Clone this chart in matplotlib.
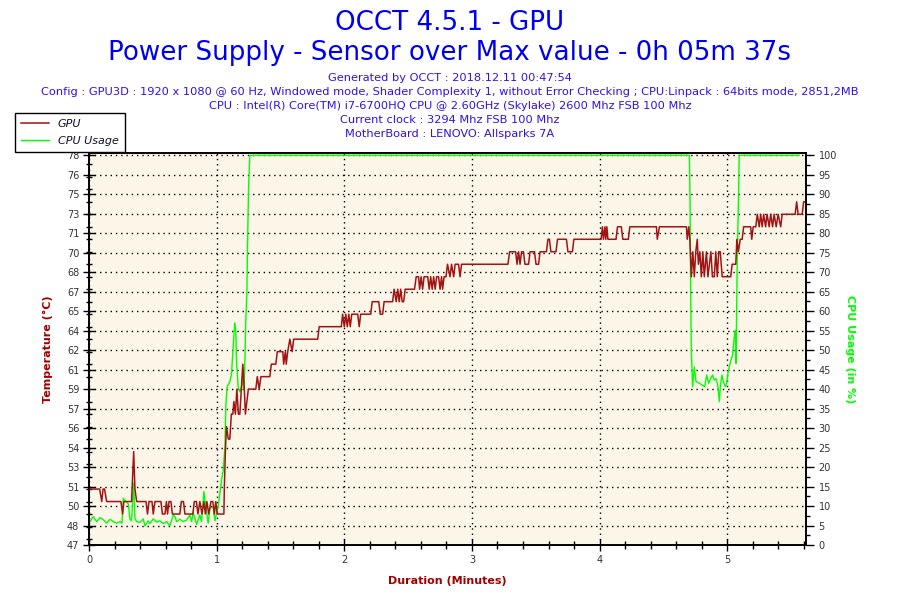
import numpy as np
import matplotlib
matplotlib.use('Agg')
import matplotlib.pyplot as plt
from matplotlib.ticker import MultipleLocator, FixedLocator, FixedFormatter

title_lines = ["OCCT 4.5.1 - GPU",
               "Power Supply - Sensor over Max value - 0h 05m 37s"]
info_lines = ["Generated by OCCT : 2018.12.11 00:47:54",
              "Config : GPU3D : 1920 x 1080 @ 60 Hz, Windowed mode, Shader Complexity 1, "
              "without Error Checking ; CPU:Linpack : 64bits mode, 2851,2MB",
              "CPU : Intel(R) Core(TM) i7-6700HQ CPU @ 2.60GHz (Skylake) 2600 Mhz FSB 100 Mhz",
              "Current clock : 3294 Mhz FSB 100 Mhz",
              "MotherBoard : LENOVO: Allsparks 7A"]
series_names = ["GPU", "CPU Usage"]

# GPU temperature (elapsed seconds, deg C)
gpu_sec = [0, 5.0, 6.0, 6.6, 7.3, 8.3, 15.0, 15.8, 16.4, 20.0, 21.0, 21.6, 22.4,
           26.8, 27.5, 28.2, 29.6, 30.2, 31.0, 33.8, 34.5, 35.7, 36.4, 36.9, 37.6,
           38.5, 39.2, 42.7, 43.4, 44.4, 45.1, 48.8, 49.5, 50.5, 51.2, 52.1, 53.1,
           54.0, 54.7, 55.4, 56.3, 57.3, 58.2, 58.9, 59.6, 60.3, 63.4, 63.6, 64.1,
           64.6, 65.5, 66.2, 66.9, 67.6, 68.1, 68.8, 69.5, 70.2, 70.9, 71.6, 72.3,
           73.0, 73.5, 74.2, 74.9, 78.4, 79.1, 80.0, 80.8, 85.0, 85.7, 87.8, 88.5,
           91.1, 91.5, 92.3, 92.7, 93.4, 94.4, 95.5, 96.2, 107.5, 108.2, 118.6, 119.2,
           120.0, 120.7, 121.4, 122.1, 122.8, 123.5, 126.3, 127.0, 127.7, 132.4, 133.1,
           136.2, 136.9, 138.0, 138.7, 142.7, 143.4, 144.4, 145.1, 145.8, 146.5, 147.2,
           147.9, 148.6, 153.0, 153.8, 154.9, 155.4, 156.1, 156.8, 157.5, 159.2, 159.9,
           160.6, 161.3, 162.0, 162.7, 163.4, 164.3, 165.0, 165.7, 166.2, 166.9, 167.8,
           168.5, 169.7, 170.4, 171.4, 172.1, 173.7, 174.4, 175.1, 196.9, 197.7, 200.5,
           201.2, 201.9, 202.6, 203.3, 204.2, 204.9, 206.6, 207.3, 209.4, 210.1, 211.3,
           212.0, 215.0, 215.7, 216.4, 217.1, 219.5, 220.2, 224.4, 225.1, 227.2, 227.9,
           240.7, 241.3, 241.8, 242.5, 242.9, 243.4, 243.9, 247.7, 248.4, 250.2, 250.9,
           253.5, 254.2, 266.7, 267.1, 268.1, 280.8, 281.2, 281.9, 282.4, 283.1, 283.8,
           284.5, 285.2, 285.9, 286.4, 287.1, 287.8, 288.5, 289.2, 290.2, 290.9, 291.6,
           292.3, 293.0, 293.9, 294.6, 295.3, 296.0, 296.7, 297.6, 301.6, 302.3, 304.0,
           304.5, 305.2, 306.1, 307.0, 307.7, 311.0, 311.5, 312.2, 313.4, 314.1, 315.0,
           315.7, 316.4, 317.1, 318.0, 318.7, 319.7, 320.4, 321.3, 322.0, 323.0, 323.9,
           325.1, 325.8, 331.9, 332.6, 333.3, 335.2, 335.9, 337.0]
gpu_temp = [51, 51, 50, 51, 51, 50, 50, 49, 50, 50, 54, 51, 50,
            50, 49, 50, 50, 49, 50, 50, 49, 49, 50, 49, 50,
            50, 49, 49, 50, 50, 49, 49, 50, 50, 49, 50, 49,
            50, 49, 50, 49, 50, 50, 49, 50, 49, 49, 51, 54,
            56, 55, 55, 57, 57, 58, 57, 59, 57, 57, 59, 61,
            59, 57, 58, 59, 59, 60, 59, 60, 60, 61, 61, 62,
            62, 61, 62, 61, 62, 63, 62, 63, 63, 64, 64, 65,
            64, 65, 64, 65, 64, 65, 65, 64, 65, 65, 66,
            66, 65, 65, 66, 66, 67, 66, 67, 66, 67, 66,
            66, 67, 67, 68, 68, 67, 68, 67, 68, 68, 67,
            68, 67, 68, 67, 68, 68, 67, 68, 67, 68, 68,
            69, 68, 69, 68, 69, 69, 68, 69, 69, 70, 70,
            69, 70, 69, 70, 70, 69, 69, 70, 70, 69, 69,
            70, 70, 71, 71, 70, 70, 71, 71, 70, 70, 71,
            71, 72, 71, 72, 71, 72, 71, 71, 72, 72, 71,
            71, 72, 72, 71, 72, 72, 71, 72, 71, 68, 70,
            68, 70, 71, 69, 70, 68, 70, 68, 70, 68, 69,
            70, 68, 68, 70, 68, 70, 70, 68, 68, 69, 69,
            71, 70, 71, 71, 72, 72, 71, 72, 72, 73, 72,
            73, 72, 73, 72, 73, 72, 73, 72, 73, 72, 73,
            72, 73, 73, 74, 73, 73, 74, 74]

# CPU usage (elapsed seconds, %)
cpu_sec = [0, 2.0, 3.6, 5.2, 6.7, 8.3, 9.9, 11.4, 13.0, 14.6, 15.5, 16.1, 16.9,
           17.7, 18.5, 19.2, 20.0, 21.0, 21.6, 22.4, 23.9, 25.5, 26.3, 27.8, 28.6,
           30.2, 31.8, 33.3, 34.9, 36.5, 38.0, 39.6, 40.4, 41.2, 42.7, 44.3, 45.9,
           47.4, 48.2, 49.0, 50.6, 52.1, 52.9, 54.0, 54.9, 56.0, 56.8, 58.4, 59.2,
           60.0, 60.7, 61.5, 62.3, 63.1, 63.9, 64.3, 64.9, 66.2, 67.0, 67.7, 68.5,
           69.0, 69.3, 70.1, 70.9, 71.7, 72.2, 72.8, 73.2, 73.7, 74.2, 74.5, 75.0,
           75.6, 282.2, 282.5, 282.8, 283.1, 283.7, 284.5, 285.3, 286.9, 288.4, 289.4,
           290.3, 291.2, 292.4, 293.1, 293.9, 294.7, 295.5, 296.3, 296.7, 297.5, 298.1,
           299.1, 299.7, 300.3, 300.9, 301.7, 302.5, 302.8, 303.3, 303.8, 304.1, 304.4,
           304.7, 305.2, 305.6, 333.8]
cpu_usage = [5.6, 7.3, 6.0, 7.0, 6.5, 5.6, 6.6, 6.0, 5.6, 6.0, 5.6, 12.0, 11.5,
             11.0, 10.5, 6.7, 6.2, 15.9, 6.7, 6.0, 5.8, 6.7, 4.9, 6.2, 5.5,
             6.7, 5.9, 6.2, 5.5, 6.0, 4.9, 7.7, 7.3, 6.0, 6.6, 6.0, 6.4,
             7.7, 6.0, 8.3, 5.3, 7.7, 6.0, 13.7, 9.9, 5.6, 9.4, 9.8, 6.2,
             8.3, 9.8, 13.3, 16.7, 19.2, 25.2, 35.5, 40.6, 41.9, 44.0, 50.4, 57.0,
             55.0, 47.4, 40.6, 39.3, 40.6, 43.2, 39.8, 46.0, 57.7, 64.6, 76.5, 91.9,
             100, 100, 88.0, 64.5, 50.0, 40.6, 45.7, 42.0, 41.5, 41.0, 40.6,
             43.6, 41.5, 43.0, 43.6, 42.3, 42.7, 41.0, 36.8, 40.6, 43.6, 42.0,
             40.6, 41.5, 44.0, 45.7, 47.4, 48.7, 50.8, 53.4, 55.0, 46.6, 60.0,
             74.0, 87.0, 100, 100]

duration_min = 5 + 37 / 60
temp_lo, temp_hi = 46.52, 77.72   # temperature range mapped onto the 0-100 % grid
top_pad = 1.006

red = '#A01414'
green = '#00FF00'
label_red = '#A00000'
tick_grey = '#333333'

fig = plt.figure(figsize=(9, 6), dpi=100)
fig.patch.set_facecolor('white')
ax2 = fig.add_axes([89 / 900, 55 / 600, 717 / 900, 392 / 600])
ax = ax2.twinx()
ax.yaxis.tick_left()
ax.yaxis.set_label_position('left')
ax2.yaxis.tick_right()
ax2.yaxis.set_label_position('right')
ax.set_zorder(ax2.get_zorder() + 1)
ax.patch.set_visible(False)
ax2.set_facecolor('#FCF6E8')

gpu_min = np.array(gpu_sec) / 60
cpu_min = np.array(cpu_sec) / 60
l2, = ax2.plot(cpu_min, cpu_usage, color=green, lw=1.0)
l1, = ax.plot(gpu_min, gpu_temp, color=red, lw=1.1)

ax2.set_xlim(0, duration_min)
ax2.set_ylim(0, 100 * top_pad)
ax.set_ylim(temp_lo, temp_lo + (temp_hi - temp_lo) * top_pad)

# right axis: percentage
ax2.set_yticks(np.arange(0, 101, 5))
ax2.yaxis.set_minor_locator(MultipleLocator(2.5))
# left axis: temperature ticks line up with the % grid
t_ticks = np.linspace(temp_lo, temp_hi, 21)
ax.yaxis.set_major_locator(FixedLocator(t_ticks))
ax.yaxis.set_major_formatter(FixedFormatter(['%.0f' % v for v in t_ticks]))
ax.yaxis.set_minor_locator(MultipleLocator(1))

ax2.xaxis.set_major_locator(MultipleLocator(1))
ax2.xaxis.set_minor_locator(MultipleLocator(0.2))

ax2.grid(True, which='major', color='black', linestyle=(0, (1, 2.8)), lw=1.0)

for a in (ax, ax2):
    for s in a.spines.values():
        s.set_color('black')
        s.set_linewidth(1.2)

ax.tick_params(axis='y', which='major', direction='inout', length=8, width=1,
               labelsize=7, labelcolor=tick_grey, pad=3)
ax.tick_params(axis='y', which='minor', direction='inout', length=5, width=1)
ax2.tick_params(axis='y', which='major', direction='out', length=6, width=1,
                labelsize=7, labelcolor=tick_grey, pad=3)
ax2.tick_params(axis='y', which='minor', direction='out', length=3, width=1)
ax2.tick_params(axis='x', which='major', direction='inout', length=8, width=1,
                labelsize=7, labelcolor=tick_grey, pad=3)
ax2.tick_params(axis='x', which='minor', direction='inout', length=6, width=1)

ax.set_ylabel('Temperature (°C)', color=label_red, fontweight='bold', fontsize=8)
ax.yaxis.set_label_coords(-0.05, 0.5)
ax2.set_ylabel('CPU Usage (in %)', color=green, fontweight='bold', fontsize=8,
               rotation=270, va='center')
ax2.yaxis.set_label_coords(1.061, 0.5)
ax2.set_xlabel('Duration (Minutes)', color=label_red, fontweight='bold', fontsize=8)
ax2.xaxis.set_label_coords(0.5, -0.078)

fig.text(0.5, 1 - 30 / 600, title_lines[0], ha='center', va='baseline',
         fontsize=18.8, color='#0000F0')
fig.text(0.5, 1 - 60 / 600, title_lines[1], ha='center', va='baseline',
         fontsize=18.8, color='#0000F0')
for k, line in enumerate(info_lines):
    fig.text(0.5, 1 - (81 + 14 * k) / 600, line, ha='center', va='baseline',
             fontsize=8.2, color='#3010E8')

leg = fig.legend([l1, l2], series_names, loc='upper left',
                 bbox_to_anchor=(15 / 900, 1 - 113 / 600), borderaxespad=0,
                 frameon=True, fancybox=False, edgecolor='black', framealpha=1,
                 prop={'style': 'italic', 'size': 8}, handlelength=2.5,
                 borderpad=0.55, labelspacing=0.65, handletextpad=0.8)
leg.get_frame().set_linewidth(1.0)
for txt in leg.get_texts():
    txt.set_color('#101030')

fig.savefig('out.png', dpi=100)
